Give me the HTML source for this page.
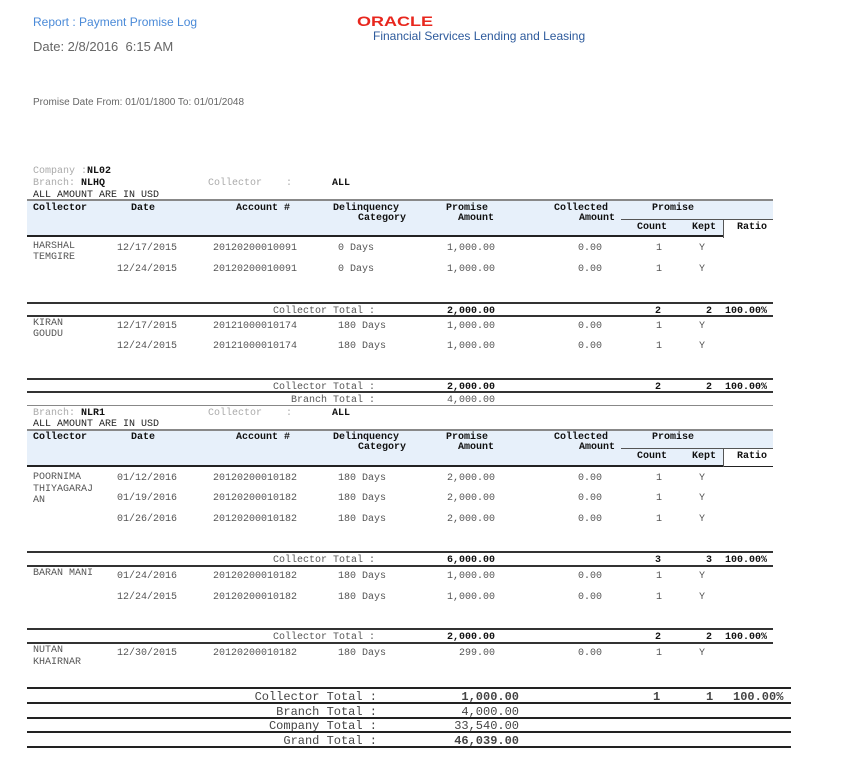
<!DOCTYPE html>
<html><head><meta charset="utf-8">
<style>
*{margin:0;padding:0;box-sizing:border-box}
body{width:853px;height:769px;background:#fff;position:relative;overflow:hidden;font-family:"Liberation Mono",monospace;}
.a{position:absolute;white-space:pre;font-size:10px;line-height:10px;color:#555;margin-top:2px;}
.b{font-weight:bold;color:#111;}
.g{color:#aaa;}
.r{text-align:right;}
.L{position:absolute;left:27px;width:746px;height:2px;background:#333;}
.Lt{position:absolute;left:27px;width:746px;height:1px;background:#888;}
.band{position:absolute;left:27px;width:746px;height:38px;background:#e7f0fa;border-top:2px solid #888;border-bottom:2px solid #222;}
.sub{position:absolute;left:621px;width:152px;height:1px;background:#555;}
.vl{position:absolute;left:723px;width:1px;background:#555;}
.wr{position:absolute;left:724px;width:49px;background:#fff;}
.s{font-family:"Liberation Sans",sans-serif;position:absolute;white-space:pre;}
.F{position:absolute;white-space:pre;font-size:12px;line-height:12px;color:#444;margin-top:1px;}
.FL{position:absolute;left:27px;width:764px;height:2px;background:#222;}
</style></head><body>

<div class="s" style="left:33px;top:15px;font-size:12px;line-height:14px;color:#4a8ad8;">Report : Payment Promise Log</div>
<div class="s" style="left:33px;top:39px;font-size:13px;line-height:16px;color:#666;">Date: 2/8/2016  6:15 AM</div>
<svg style="position:absolute;left:356px;top:13px" width="80" height="16"><text x="1" y="13" font-family="Liberation Sans" font-weight="bold" font-size="14" fill="#e8271e" textLength="76" lengthAdjust="spacingAndGlyphs">ORACLE</text></svg>
<div class="s" style="left:373px;top:29px;font-size:12px;line-height:14px;color:#2d5a9c;">Financial Services Lending and Leasing</div>
<div class="s" style="left:33px;top:97px;font-size:10px;line-height:12px;color:#666;">Promise Date From: 01/01/1800 To: 01/01/2048</div>

<!-- Section 1 -->
<div class="a" style="left:33px;top:165px"><span class="g">Company :</span><span class="b">NL02</span></div>
<div class="a" style="left:33px;top:177px"><span class="g">Branch: </span><span class="b">NLHQ</span></div>
<div class="a g" style="left:208px;top:177px">Collector    :</div>
<div class="a b" style="left:332px;top:177px">ALL</div>
<div class="a" style="left:33px;top:189px;color:#222">ALL AMOUNT ARE IN USD</div>

<div class="band" style="top:199px"></div>
<div class="wr" style="top:220px;height:17px"></div>
<div class="sub" style="top:219px"></div>
<div class="vl" style="top:219px;height:19px"></div>
<div class="a b" style="left:33px;top:202px">Collector</div>
<div class="a b" style="left:131px;top:202px">Date</div>
<div class="a b" style="left:236px;top:202px">Account #</div>
<div class="a b" style="left:333px;top:202px">Delinquency</div>
<div class="a b" style="left:358px;top:212px">Category</div>
<div class="a b" style="left:446px;top:202px">Promise</div>
<div class="a b" style="left:458px;top:212px">Amount</div>
<div class="a b" style="left:554px;top:202px">Collected</div>
<div class="a b" style="left:579px;top:212px">Amount</div>
<div class="a b" style="left:652px;top:202px">Promise</div>
<div class="a b" style="left:637px;top:221px">Count</div>
<div class="a b" style="left:692px;top:221px">Kept</div>
<div class="a b" style="left:737px;top:221px">Ratio</div>

<div class="a" style="left:33px;top:239px;line-height:11px">HARSHAL
TEMGIRE</div>
<div class="a" style="left:117px;top:242px">12/17/2015</div><div class="a" style="left:213px;top:242px">20120200010091</div><div class="a" style="left:338px;top:242px">0 Days</div><div class="a r" style="left:435px;width:60px;top:242px">1,000.00</div><div class="a r" style="left:542px;width:60px;top:242px">0.00</div><div class="a" style="left:656px;top:242px">1</div><div class="a" style="left:699px;top:242px">Y</div>
<div class="a" style="left:117px;top:263px">12/24/2015</div><div class="a" style="left:213px;top:263px">20120200010091</div><div class="a" style="left:338px;top:263px">0 Days</div><div class="a r" style="left:435px;width:60px;top:263px">1,000.00</div><div class="a r" style="left:542px;width:60px;top:263px">0.00</div><div class="a" style="left:656px;top:263px">1</div><div class="a" style="left:699px;top:263px">Y</div>

<div class="L" style="top:302px"></div>
<div class="a r" style="left:200px;width:175px;top:305px">Collector Total :</div>
<div class="a b r" style="left:435px;width:60px;top:305px">2,000.00</div>
<div class="a b" style="left:655px;top:305px">2</div><div class="a b" style="left:706px;top:305px">2</div><div class="a b" style="left:725px;top:305px">100.00%</div>
<div class="L" style="top:315px"></div>

<div class="a" style="left:33px;top:316px;line-height:11px">KIRAN
GOUDU</div>
<div class="a" style="left:117px;top:320px">12/17/2015</div><div class="a" style="left:213px;top:320px">20121000010174</div><div class="a" style="left:338px;top:320px">180 Days</div><div class="a r" style="left:435px;width:60px;top:320px">1,000.00</div><div class="a r" style="left:542px;width:60px;top:320px">0.00</div><div class="a" style="left:656px;top:320px">1</div><div class="a" style="left:699px;top:320px">Y</div>
<div class="a" style="left:117px;top:340px">12/24/2015</div><div class="a" style="left:213px;top:340px">20121000010174</div><div class="a" style="left:338px;top:340px">180 Days</div><div class="a r" style="left:435px;width:60px;top:340px">1,000.00</div><div class="a r" style="left:542px;width:60px;top:340px">0.00</div><div class="a" style="left:656px;top:340px">1</div><div class="a" style="left:699px;top:340px">Y</div>

<div class="L" style="top:378px"></div>
<div class="a r" style="left:200px;width:175px;top:381px">Collector Total :</div>
<div class="a b r" style="left:435px;width:60px;top:381px">2,000.00</div>
<div class="a b" style="left:655px;top:381px">2</div><div class="a b" style="left:706px;top:381px">2</div><div class="a b" style="left:725px;top:381px">100.00%</div>
<div class="L" style="top:391px"></div>
<div class="a r" style="left:200px;width:175px;top:394px">Branch Total :</div>
<div class="a r" style="left:435px;width:60px;top:394px">4,000.00</div>
<div class="Lt" style="top:405px"></div>

<!-- Section 2 -->
<div class="a" style="left:33px;top:407px"><span class="g">Branch: </span><span class="b">NLR1</span></div>
<div class="a g" style="left:208px;top:407px">Collector    :</div>
<div class="a b" style="left:332px;top:407px">ALL</div>
<div class="a" style="left:33px;top:418px;color:#222">ALL AMOUNT ARE IN USD</div>

<div class="band" style="top:429px"></div>
<div class="wr" style="top:449px;height:17px"></div>
<div class="sub" style="top:448px"></div>
<div class="vl" style="top:448px;height:19px"></div>
<div class="a b" style="left:33px;top:431px">Collector</div>
<div class="a b" style="left:131px;top:431px">Date</div>
<div class="a b" style="left:236px;top:431px">Account #</div>
<div class="a b" style="left:333px;top:431px">Delinquency</div>
<div class="a b" style="left:358px;top:441px">Category</div>
<div class="a b" style="left:446px;top:431px">Promise</div>
<div class="a b" style="left:458px;top:441px">Amount</div>
<div class="a b" style="left:554px;top:431px">Collected</div>
<div class="a b" style="left:579px;top:441px">Amount</div>
<div class="a b" style="left:652px;top:431px">Promise</div>
<div class="a b" style="left:637px;top:450px">Count</div>
<div class="a b" style="left:692px;top:450px">Kept</div>
<div class="a b" style="left:737px;top:450px">Ratio</div>

<div class="a" style="left:33px;top:470px;line-height:11.5px">POORNIMA
THIYAGARAJ
AN</div>
<div class="a" style="left:117px;top:472px">01/12/2016</div><div class="a" style="left:213px;top:472px">20120200010182</div><div class="a" style="left:338px;top:472px">180 Days</div><div class="a r" style="left:435px;width:60px;top:472px">2,000.00</div><div class="a r" style="left:542px;width:60px;top:472px">0.00</div><div class="a" style="left:656px;top:472px">1</div><div class="a" style="left:699px;top:472px">Y</div>
<div class="a" style="left:117px;top:492px">01/19/2016</div><div class="a" style="left:213px;top:492px">20120200010182</div><div class="a" style="left:338px;top:492px">180 Days</div><div class="a r" style="left:435px;width:60px;top:492px">2,000.00</div><div class="a r" style="left:542px;width:60px;top:492px">0.00</div><div class="a" style="left:656px;top:492px">1</div><div class="a" style="left:699px;top:492px">Y</div>
<div class="a" style="left:117px;top:513px">01/26/2016</div><div class="a" style="left:213px;top:513px">20120200010182</div><div class="a" style="left:338px;top:513px">180 Days</div><div class="a r" style="left:435px;width:60px;top:513px">2,000.00</div><div class="a r" style="left:542px;width:60px;top:513px">0.00</div><div class="a" style="left:656px;top:513px">1</div><div class="a" style="left:699px;top:513px">Y</div>

<div class="L" style="top:551px"></div>
<div class="a r" style="left:200px;width:175px;top:554px">Collector Total :</div>
<div class="a b r" style="left:435px;width:60px;top:554px">6,000.00</div>
<div class="a b" style="left:655px;top:554px">3</div><div class="a b" style="left:706px;top:554px">3</div><div class="a b" style="left:725px;top:554px">100.00%</div>
<div class="L" style="top:565px"></div>

<div class="a" style="left:33px;top:567px">BARAN MANI</div>
<div class="a" style="left:117px;top:570px">01/24/2016</div><div class="a" style="left:213px;top:570px">20120200010182</div><div class="a" style="left:338px;top:570px">180 Days</div><div class="a r" style="left:435px;width:60px;top:570px">1,000.00</div><div class="a r" style="left:542px;width:60px;top:570px">0.00</div><div class="a" style="left:656px;top:570px">1</div><div class="a" style="left:699px;top:570px">Y</div>
<div class="a" style="left:117px;top:591px">12/24/2015</div><div class="a" style="left:213px;top:591px">20120200010182</div><div class="a" style="left:338px;top:591px">180 Days</div><div class="a r" style="left:435px;width:60px;top:591px">1,000.00</div><div class="a r" style="left:542px;width:60px;top:591px">0.00</div><div class="a" style="left:656px;top:591px">1</div><div class="a" style="left:699px;top:591px">Y</div>

<div class="L" style="top:628px"></div>
<div class="a r" style="left:200px;width:175px;top:631px">Collector Total :</div>
<div class="a b r" style="left:435px;width:60px;top:631px">2,000.00</div>
<div class="a b" style="left:655px;top:631px">2</div><div class="a b" style="left:706px;top:631px">2</div><div class="a b" style="left:725px;top:631px">100.00%</div>
<div class="L" style="top:642px"></div>

<div class="a" style="left:33px;top:643px;line-height:12px">NUTAN
KHAIRNAR</div>
<div class="a" style="left:117px;top:647px">12/30/2015</div><div class="a" style="left:213px;top:647px">20120200010182</div><div class="a" style="left:338px;top:647px">180 Days</div><div class="a r" style="left:435px;width:60px;top:647px">299.00</div><div class="a r" style="left:542px;width:60px;top:647px">0.00</div><div class="a" style="left:656px;top:647px">1</div><div class="a" style="left:699px;top:647px">Y</div>

<!-- Final totals -->
<div class="FL" style="top:687px"></div>
<div class="F r" style="left:180px;width:197px;top:690px">Collector Total :</div>
<div class="F b r" style="left:420px;width:99px;top:690px">1,000.00</div>
<div class="F b" style="left:653px;top:690px">1</div><div class="F b" style="left:706px;top:690px">1</div><div class="F b" style="left:733px;top:690px">100.00%</div>
<div class="FL" style="top:702px"></div>
<div class="F r" style="left:180px;width:197px;top:705px">Branch Total :</div>
<div class="F r" style="left:420px;width:99px;top:705px">4,000.00</div>
<div class="FL" style="top:717px"></div>
<div class="F r" style="left:180px;width:197px;top:719px">Company Total :</div>
<div class="F r" style="left:420px;width:99px;top:719px">33,540.00</div>
<div class="FL" style="top:731px"></div>
<div class="F r" style="left:180px;width:197px;top:734px">Grand Total :</div>
<div class="F b r" style="left:420px;width:99px;top:734px">46,039.00</div>
<div class="FL" style="top:746px"></div>

</body></html>
